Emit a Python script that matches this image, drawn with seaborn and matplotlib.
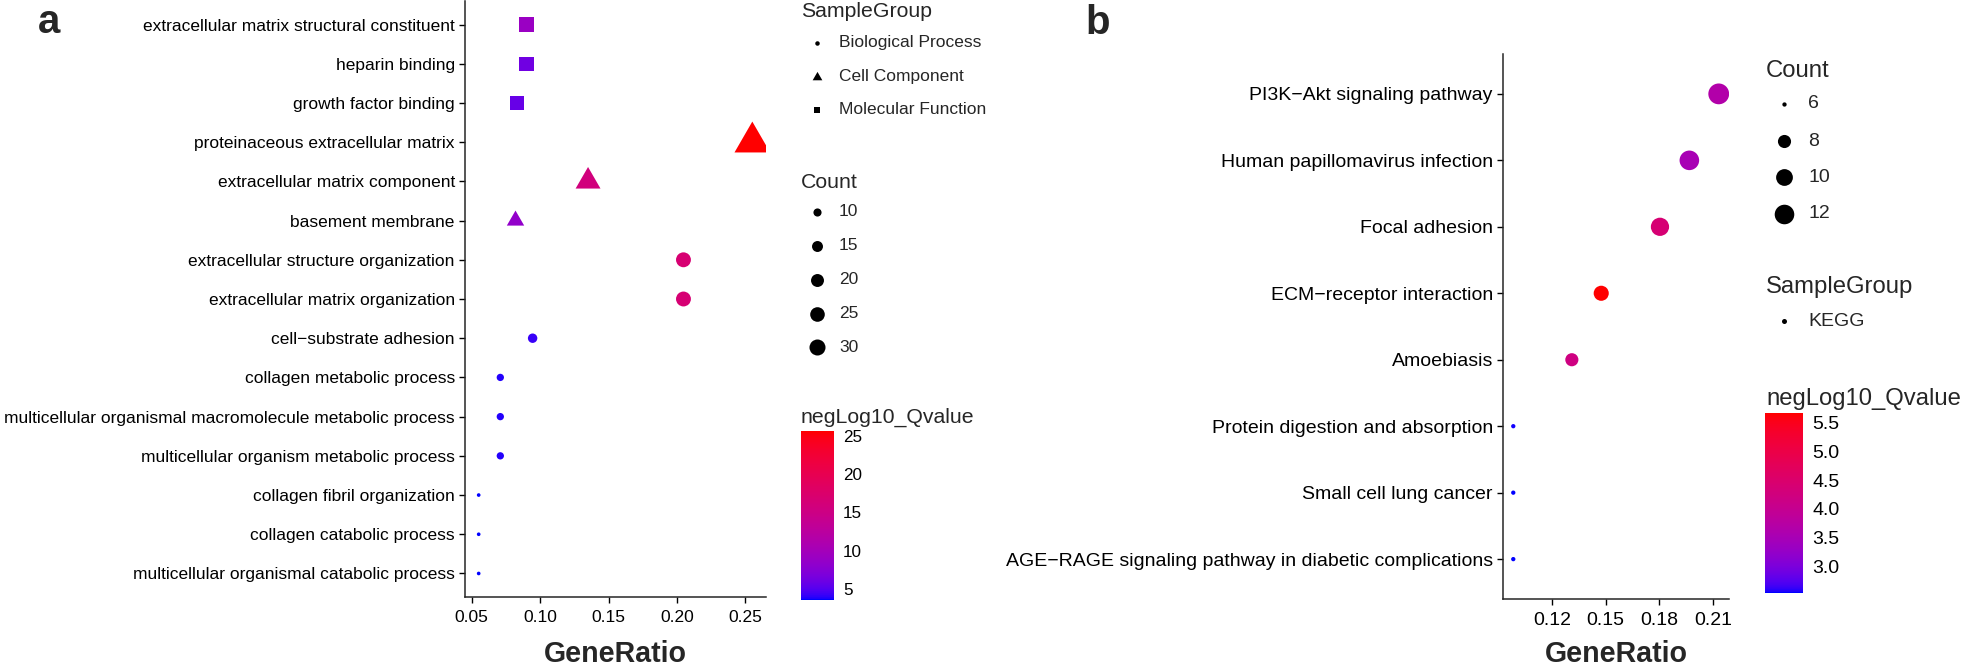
import numpy as np
import pandas as pd
import matplotlib
matplotlib.use("Agg")
import matplotlib.pyplot as plt
import seaborn as sns
from matplotlib.colors import ListedColormap, Normalize
from matplotlib.cm import ScalarMappable

# ------------------------------------------------------------------ data
go_terms = [
    "extracellular matrix structural constituent",
    "heparin binding",
    "growth factor binding",
    "proteinaceous extracellular matrix",
    "extracellular matrix component",
    "basement membrane",
    "extracellular structure organization",
    "extracellular matrix organization",
    "cell\u2212substrate adhesion",
    "collagen metabolic process",
    "multicellular organismal macromolecule metabolic process",
    "multicellular organism metabolic process",
    "collagen fibril organization",
    "collagen catabolic process",
    "multicellular organismal catabolic process",
]
go_group = ["Molecular Function"] * 3 + ["Cell Component"] * 3 + ["Biological Process"] * 9
go_ratio = [0.090, 0.090, 0.083, 0.255, 0.135, 0.082, 0.2047, 0.2047, 0.0945,
            0.0709, 0.0709, 0.0709, 0.0551, 0.0551, 0.0551]
go_count = [14, 14, 13, 34, 18, 11, 26, 26, 12, 9, 9, 9, 7, 7, 7]
go_qval = [9.0, 6.2, 5.8, 25.65, 15.8, 8.4, 16.8, 16.7, 4.2, 3.9, 3.9, 3.9,
           3.56, 3.56, 3.56]
go_group_order = ["Biological Process", "Cell Component", "Molecular Function"]
go_size_breaks = [10, 15, 20, 25, 30]
go_xticks = [0.05, 0.10, 0.15, 0.20, 0.25]
go_cbar_ticks = [5, 10, 15, 20, 25]

kegg_terms = [
    "PI3K\u2212Akt signaling pathway",
    "Human papillomavirus infection",
    "Focal adhesion",
    "ECM\u2212receptor interaction",
    "Amoebiasis",
    "Protein digestion and absorption",
    "Small cell lung cancer",
    "AGE\u2212RAGE signaling pathway in diabetic complications",
]
kegg_group = ["KEGG"] * 8
kegg_ratio = [0.2131, 0.1967, 0.1803, 0.1475, 0.1311, 0.0984, 0.0984, 0.0984]
kegg_count = [13, 12, 11, 9, 8, 6, 6, 6]
kegg_qval = [3.65, 3.5, 4.4, 5.67, 4.2, 2.55, 2.53, 2.53]
kegg_size_breaks = [6, 8, 10, 12]
kegg_xticks = [0.12, 0.15, 0.18, 0.21]
kegg_cbar_ticks = [3.0, 3.5, 4.0, 4.5, 5.0, 5.5]

# ------------------------------------------------------------------ style
W, H = 1961, 669
sns.set_style("ticks")
plt.rcParams["font.family"] = ["Liberation Sans", "DejaVu Sans"]
plt.rcParams["axes.linewidth"] = 1.1


def _lab(rgb):
    rgb = np.asarray(rgb, float)
    lin = np.where(rgb <= 0.04045, rgb / 12.92, ((rgb + 0.055) / 1.055) ** 2.4)
    M = np.array([[0.4124564, 0.3575761, 0.1804375],
                  [0.2126729, 0.7151522, 0.0721750],
                  [0.0193339, 0.1191920, 0.9503041]])
    xyz = M @ lin / np.array([0.95047, 1.0, 1.08883])
    d = 6 / 29
    f = np.where(xyz > d ** 3, np.cbrt(xyz), xyz / (3 * d * d) + 4 / 29)
    return np.array([116 * f[1] - 16, 500 * (f[0] - f[1]), 200 * (f[1] - f[2])])


def _rgb(lab):
    L, a, b = lab
    fy = (L + 16) / 116
    f = np.array([fy + a / 500, fy, fy - b / 200])
    d = 6 / 29
    xyz = np.where(f > d, f ** 3, 3 * d * d * (f - 4 / 29))
    xyz = xyz * np.array([0.95047, 1.0, 1.08883])[:, None]
    Mi = np.array([[3.2404542, -1.5371385, -0.4985314],
                   [-0.9692660, 1.8760108, 0.0415560],
                   [0.0556434, -0.2040259, 1.0572252]])
    lin = np.clip(Mi @ xyz, 0, 1)
    s = np.where(lin <= 0.0031308, 12.92 * lin, 1.055 * lin ** (1 / 2.4) - 0.055)
    return np.clip(s.T, 0, 1)


t = np.linspace(0, 1, 256)
lab_lo, lab_hi = _lab([0, 0, 1]), _lab([1, 0, 0])
cmap = ListedColormap(_rgb(lab_lo[:, None] * (1 - t) + lab_hi[:, None] * t))

# triangle like R pch 17 (equilateral, centred on centroid)
TRI = [(0, 0.5774), (-0.5, -0.2887), (0.5, -0.2887)]
PX2PT = 0.72


def gg_fs(c, cmin, cmax, base):
    c = np.asarray(c, float)
    return base * (1 + 5 * np.sqrt((c - cmin) / (cmax - cmin)))


def marker_px(fs, shape):
    if shape == "circle":
        return 0.5 * fs + 1.0
    if shape == "square":
        return 0.75 * fs
    return 1.1 * 1.01 * fs / 0.866


shape_of = {"Biological Process": ("circle", "o"),
            "Cell Component": ("tri", TRI),
            "Molecular Function": ("square", "s"),
            "KEGG": ("circle", "o")}

fig = plt.figure(figsize=(W / 100, H / 100), dpi=100)


def px_axes(x0, y0, x1, y1):
    return fig.add_axes([x0 / W, 1 - y1 / H, (x1 - x0) / W, (y1 - y0) / H])


def panel(ax, terms, groups, ratio, count, qval, base, tick_fs, xticks, xlab_y):
    df = pd.DataFrame({"term": pd.Categorical(terms, categories=terms[::-1]),
                       "SampleGroup": groups, "GeneRatio": ratio,
                       "Count": count, "q": qval})
    cmin, cmax = min(count), max(count)
    qn = (min(qval), max(qval))
    for g in pd.unique(df["SampleGroup"]):
        sub = df[df["SampleGroup"] == g]
        shape, mk = shape_of[g]
        sizes = {c: (marker_px(gg_fs(c, cmin, cmax, base), shape) * PX2PT) ** 2
                 for c in sorted(sub["Count"].unique())}
        sns.scatterplot(data=sub, x="GeneRatio", y="term", hue="q", size="Count",
                        sizes=sizes, palette=cmap, hue_norm=qn, marker=mk,
                        linewidth=0, edgecolor="none", legend=False, ax=ax,
                        zorder=3)
    r0, r1 = min(ratio), max(ratio)
    pad = 0.05 * (r1 - r0)
    ax.set_xlim(r0 - pad, r1 + pad)
    ax.set_ylim(-0.6, len(terms) - 0.4)
    ax.set_xticks(xticks)
    ax.set_xticklabels([f"{v:.2f}" for v in xticks])
    sns.despine(ax=ax)
    ax.tick_params(axis="both", length=4.3, width=1.0, color="black",
                   labelsize=tick_fs, labelcolor="black", pad=3)
    ax.tick_params(axis="x", pad=5)
    ax.set_ylabel("")
    ax.set_xlabel("GeneRatio", fontsize=20.6, fontweight="bold")
    ax.xaxis.label.set_va("baseline")
    ax.xaxis.set_label_coords(0.5, xlab_y)
    ax.grid(False)
    return cmin, cmax, qn


ax_a = px_axes(465, 1, 766, 597)
ca = panel(ax_a, go_terms, go_group, go_ratio, go_count, go_qval, 5.35, 12.5,
           go_xticks, -(662 - 597) / 596)
ax_b = px_axes(1503, 54, 1729, 599)
cb_ = panel(ax_b, kegg_terms, kegg_group, kegg_ratio, kegg_count, kegg_qval, 6.6, 14,
            kegg_xticks, -(662 - 599) / 545)

# ------------------------------------------------------------------ legends
ov = fig.add_axes([0, 0, 1, 1], zorder=-1)
ov.set_xlim(0, W)
ov.set_ylim(H, 0)
ov.axis("off")

ov.text(38, 33, "a", fontsize=29, fontweight="bold", va="baseline")
ov.text(1085, 34, "b", fontsize=29, fontweight="bold", va="baseline")


def legend_block(x_title, y_title, x_key, x_lab, rows, title, title_fs, lab_fs):
    ov.text(x_title, y_title, title, fontsize=title_fs, va="baseline")
    for y, lab, mk, d in rows:
        ov.scatter([x_key], [y], marker=mk, s=(d * PX2PT) ** 2, color="black",
                   linewidth=0)
        ov.text(x_lab, y, lab, fontsize=lab_fs, va="center")


# panel a
legend_block(801, 17, 817, 839,
             [(43, go_group_order[0], "o", 4.5),
              (77, go_group_order[1], TRI, 9.7 / 0.866),
              (110, go_group_order[2], "s", 6.7)],
             "SampleGroup", 15.3, 12.5)
legend_block(801, 187.5, 817, 839,
             [(y, str(c), "o", marker_px(gg_fs(c, ca[0], ca[1], 5.35), "circle"))
              for y, c in zip([212, 246, 280, 314, 347], go_size_breaks)],
             "Count", 15.3, 12.5)
ov.text(801, 423, "negLog10_Qvalue", fontsize=15.3, va="baseline")

# panel b
legend_block(1766, 77, 1784, 1808,
             [(y, str(c), "o", marker_px(gg_fs(c, cb_[0], cb_[1], 6.6), "circle"))
              for y, c in zip([104, 141, 177, 214], kegg_size_breaks)],
             "Count", 17.2, 14)
legend_block(1766, 293, 1784, 1808, [(321, "KEGG", "o", 5.0)],
             "SampleGroup", 17.2, 14)
ov.text(1766, 405, "negLog10_Qvalue", fontsize=17.2, va="baseline")


def colorbar(x0, y0, x1, y1, qn, ticks, fmt, fs, tlen):
    cax = px_axes(x0, y0, x1, y1)
    sm = ScalarMappable(norm=Normalize(*qn), cmap=cmap)
    cb = fig.colorbar(sm, cax=cax)
    cb.outline.set_visible(False)
    cb.set_ticks(ticks)
    cb.set_ticklabels([fmt.format(v) for v in ticks])
    cax.tick_params(axis="y", direction="in", color="white", length=tlen,
                    width=0.8, left=True, right=True, labelsize=fs,
                    labelcolor="black", pad=6.5)
    return cb


colorbar(801, 431, 834, 600, ca[2], go_cbar_ticks, "{:d}", 12.3, 4.8)
colorbar(1765, 413, 1803, 593, cb_[2], kegg_cbar_ticks, "{:.1f}", 14, 5.5)

fig.savefig("out.png", dpi=100)
